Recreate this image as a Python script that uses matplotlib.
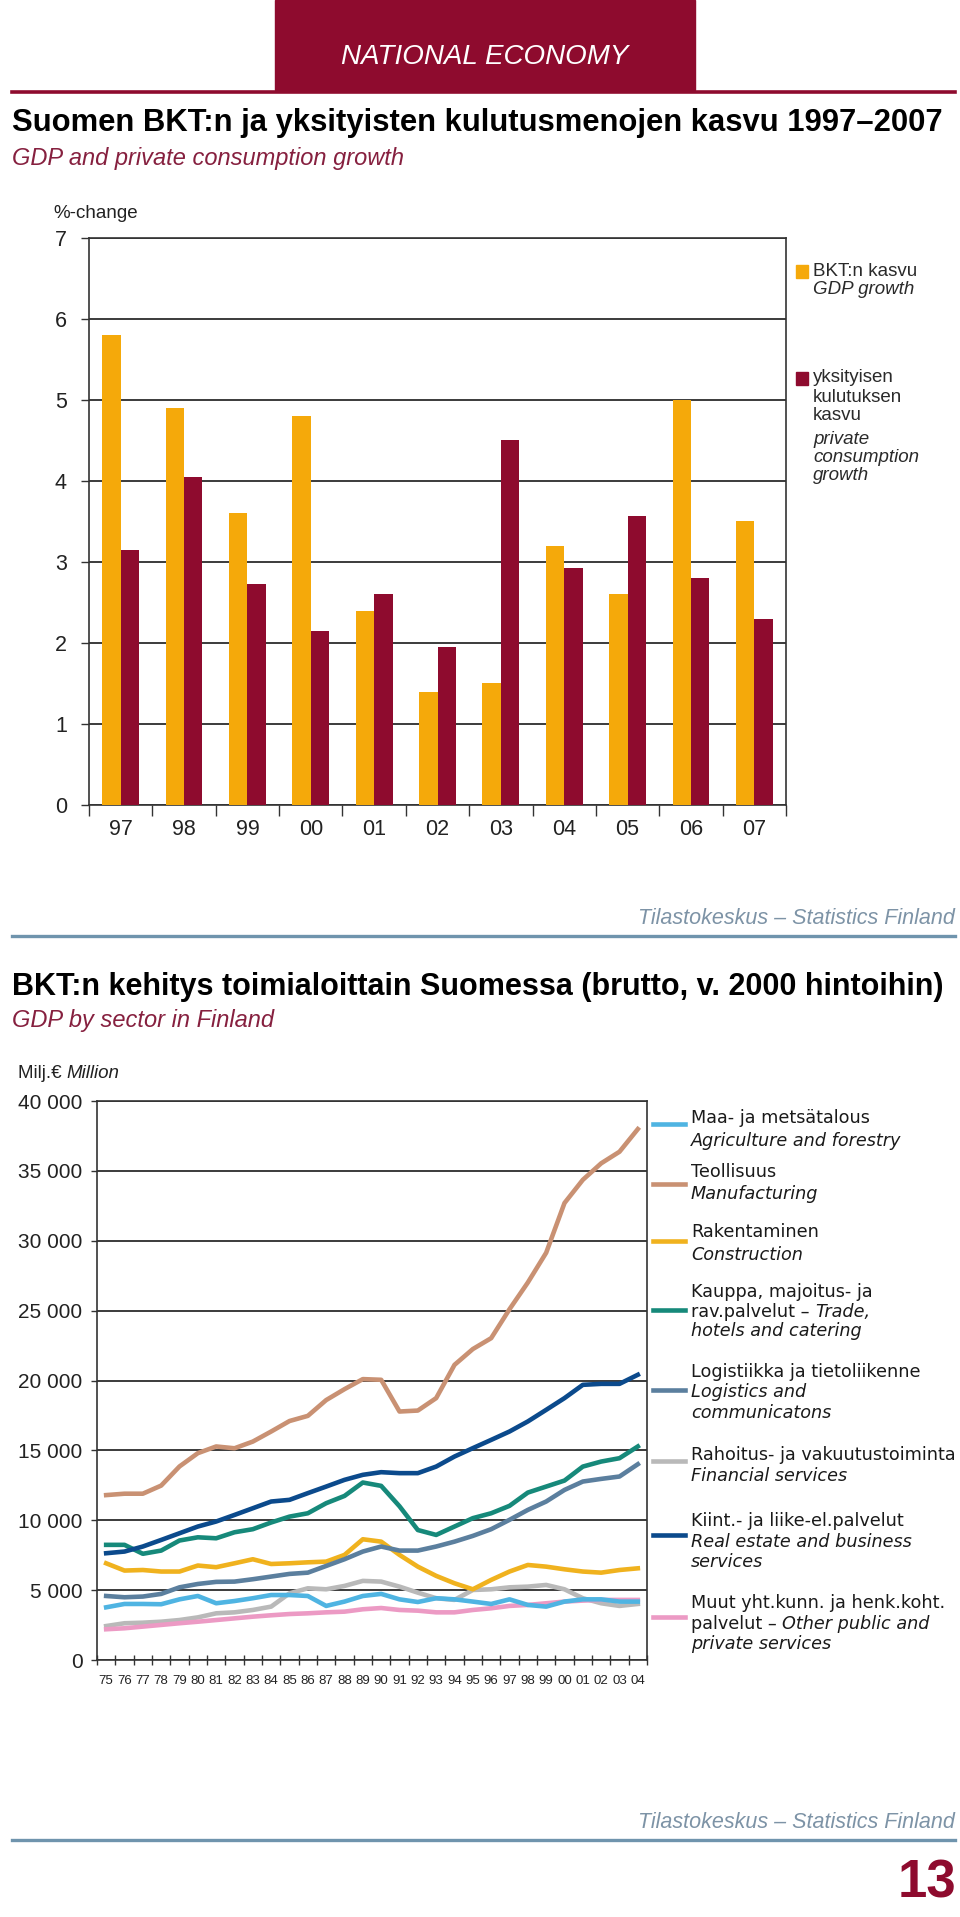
import matplotlib
matplotlib.use("Agg")
import matplotlib.pyplot as plt
from matplotlib.patches import Rectangle
from matplotlib.lines import Line2D
import numpy as np

# --- bar chart data: GDP and private consumption growth, %-change ---
bar_years = ["97", "98", "99", "00", "01", "02", "03", "04", "05", "06", "07"]
gdp_growth = [5.8, 4.9, 3.6, 4.8, 2.4, 1.4, 1.5, 3.2, 2.6, 5.0, 3.5]
consumption_growth = [3.15, 4.05, 2.73, 2.15, 2.6, 1.95, 4.5, 2.93, 3.57, 2.8, 2.3]

# --- line chart data: GDP by sector, million euro (2000 prices) ---
sector_years = ["75", "76", "77", "78", "79", "80", "81", "82", "83", "84",
                "85", "86", "87", "88", "89", "90", "91", "92", "93", "94",
                "95", "96", "97", "98", "99", "00", "01", "02", "03", "04"]
agriculture = [3770, 4010, 4010, 3990, 4340, 4580, 4060, 4220, 4420, 4650,
               4650, 4580, 3870, 4180, 4580, 4730, 4340, 4150, 4420, 4340,
               4180, 4010, 4340, 3940, 3820, 4180, 4340, 4340, 4180, 4180]
manufacturing = [11800, 11900, 11900, 12480, 13850, 14800, 15280, 15150, 15630, 16350,
                 17100, 17470, 18600, 19380, 20100, 20050, 17780, 17850, 18740, 21120,
                 22250, 23030, 25100, 27010, 29140, 32700, 34360, 35540, 36370, 37990]
construction = [6920, 6400, 6440, 6330, 6330, 6760, 6640, 6920, 7210, 6870,
                6920, 6990, 7040, 7520, 8640, 8470, 7520, 6680, 6020, 5490,
                5060, 5730, 6330, 6800, 6680, 6490, 6330, 6250, 6440, 6560]
trade = [8240, 8240, 7600, 7830, 8550, 8780, 8710, 9140, 9360, 9840,
         10260, 10500, 11220, 11740, 12700, 12460, 11000, 9300, 8950, 9550,
         10150, 10500, 11030, 11980, 12410, 12840, 13840, 14200, 14440, 15280]
logistics = [4580, 4490, 4540, 4730, 5200, 5440, 5590, 5610, 5780, 5970,
             6160, 6250, 6730, 7210, 7760, 8120, 7830, 7830, 8120, 8470,
             8880, 9360, 10030, 10740, 11340, 12170, 12770, 12960, 13130, 14010]
financial = [2430, 2630, 2670, 2740, 2860, 3050, 3340, 3410, 3580, 3820,
             4770, 5130, 5060, 5300, 5660, 5610, 5250, 4820, 4420, 4300,
             5010, 5060, 5200, 5250, 5370, 5060, 4420, 4060, 3870, 4010]
real_estate = [7640, 7760, 8120, 8590, 9070, 9550, 9910, 10380, 10860, 11340,
               11460, 11940, 12410, 12890, 13250, 13440, 13370, 13370, 13840, 14560,
               15160, 15750, 16350, 17070, 17900, 18740, 19690, 19760, 19760, 20410]
other_services = [2200, 2270, 2390, 2510, 2630, 2740, 2860, 2980, 3100, 3200,
                  3290, 3340, 3410, 3460, 3630, 3720, 3580, 3530, 3410, 3410,
                  3580, 3700, 3870, 3940, 4060, 4180, 4250, 4300, 4300, 4300]

RED = "#8e0b2e"
GOLD = "#f5a90a"
MAROON_TXT = "#86203f"
SOURCE_TXT = "#7d93a6"
SOURCE_LINE = "#6f94ad"

W, H = 960, 1917
plt.rcParams['font.family'] = ['Liberation Sans', 'DejaVu Sans']


def fx(x):
    return x / W


def fy(y):
    return 1 - y / H


fig = plt.figure(figsize=(W / 100, H / 100), dpi=100)


def text_runs(ax, x, y, runs, **kw):
    # one line of text made of regular / italic pieces, placed end to end
    prev = None
    for txt, st in runs:
        if prev is None:
            prev = fig.text(x, y, txt, style=st, ha="left", va="center", **kw)
        else:
            prev = ax.annotate(txt, xy=(1, 0.5), xycoords=prev, style=st,
                               ha="left", va="center", annotation_clip=False, **kw)
    return prev


# header band
fig.patches.append(Rectangle((fx(275), fy(90)), fx(695) - fx(275), fy(0) - fy(90),
                             transform=fig.transFigure, color=RED, zorder=0))
fig.add_artist(Line2D([fx(12), fx(955)], [fy(92), fy(92)], color=RED, lw=2.6))
fig.text(fx(485), fy(57), "NATIONAL ECONOMY", color="white", style="italic",
         fontsize=20, ha="center", va="center")

# ---------------- chart 1 ----------------
fig.text(fx(12), fy(123), "Suomen BKT:n ja yksityisten kulutusmenojen kasvu 1997–2007",
         fontsize=22.3, weight="bold", ha="left", va="center")
fig.text(fx(12), fy(158), "GDP and private consumption growth", fontsize=17,
         style="italic", color=MAROON_TXT, ha="left", va="center")
fig.text(fx(53), fy(214), "%-change", fontsize=13.5, ha="left", va="center", color="#222222")

ax1 = fig.add_axes([fx(89), fy(805), fx(786) - fx(89), fy(238) - fy(805)])
x = np.arange(len(bar_years))
bw = 0.29
ax1.bar(x - bw / 2, gdp_growth, bw, color=GOLD, zorder=3)
ax1.bar(x + bw / 2, consumption_growth, bw, color=RED, zorder=3)
ax1.set_xlim(-0.5, len(bar_years) - 0.5)
ax1.set_ylim(0, 7)
ax1.set_yticks(range(0, 8))
ax1.yaxis.grid(True, color="#1a1a1a", lw=1.2, zorder=1)
ax1.set_xticks(np.arange(-0.5, len(bar_years), 1.0))
ax1.set_xticklabels([])
ax1.set_xticks(x, minor=True)
ax1.set_xticklabels(bar_years, minor=True)
ax1.tick_params(axis="x", which="major", length=8, width=1, color="#333333")
ax1.tick_params(axis="x", which="minor", length=0, pad=10, labelsize=15.5,
                labelcolor="#222222")
ax1.tick_params(axis="y", length=6, width=1, pad=10, labelsize=15.5,
                labelcolor="#222222", color="#333333")
for s in ax1.spines.values():
    s.set_color("#333333")
    s.set_linewidth(1.2)

# legend of chart 1
fig.patches.append(Rectangle((fx(796), fy(278)), fx(12), 13 / H,
                             transform=fig.transFigure, color=GOLD))
fig.patches.append(Rectangle((fx(796), fy(385)), fx(12), 13 / H,
                             transform=fig.transFigure, color=RED))
leg1 = [("BKT:n kasvu", 271, "normal"), ("GDP growth", 290, "italic"),
        ("yksityisen", 378, "normal"), ("kulutuksen", 397, "normal"),
        ("kasvu", 416, "normal"), ("private", 439, "italic"),
        ("consumption", 458, "italic"), ("growth", 476, "italic")]
for txt, yy, st in leg1:
    fig.text(fx(813), fy(yy), txt, fontsize=13.5, style=st, color="#2a2a2a",
             ha="left", va="center")

fig.text(fx(955), fy(919), "Tilastokeskus – Statistics Finland", fontsize=15.5,
         style="italic", color=SOURCE_TXT, ha="right", va="center")
fig.add_artist(Line2D([fx(12), fx(955)], [fy(936), fy(936)], color=SOURCE_LINE, lw=2.4))

# ---------------- chart 2 ----------------
fig.text(fx(12), fy(987), "BKT:n kehitys toimialoittain Suomessa (brutto, v. 2000 hintoihin)",
         fontsize=22, weight="bold", ha="left", va="center")
fig.text(fx(12), fy(1020), "GDP by sector in Finland", fontsize=17,
         style="italic", color=MAROON_TXT, ha="left", va="center")

ax2 = fig.add_axes([fx(97), fy(1660), fx(647) - fx(97), fy(1101) - fy(1660)])
text_runs(ax2, fx(18), fy(1074), [("Milj.€ ", "normal"), ("Million", "italic")],
          fontsize=13.5, color="#222222")

xs = np.arange(len(sector_years))
series = [
    (agriculture, "#4fb4e2"),
    (manufacturing, "#c99173"),
    (construction, "#f0b21e"),
    (trade, "#16897a"),
    (logistics, "#5b7f9e"),
    (financial, "#b9b9b9"),
    (real_estate, "#0b4a8c"),
    (other_services, "#ec9ac4"),
]
# draw in an order so the darker lines sit on top as in the print
for idx in [5, 7, 0, 2, 4, 3, 6, 1]:
    vals, col = series[idx]
    ax2.plot(xs, vals, color=col, lw=3.3, solid_joinstyle="round", zorder=3)
ax2.set_xlim(-0.5, len(sector_years) - 0.5)
ax2.set_ylim(0, 40000)
yt = np.arange(0, 40001, 5000)
ax2.set_yticks(yt)
ax2.set_yticklabels(["0" if v == 0 else f"{v // 1000} 000" for v in yt])
ax2.yaxis.grid(True, color="#1a1a1a", lw=1.2, zorder=1)
ax2.set_xticks(np.arange(-0.5, len(sector_years), 1.0))
ax2.set_xticklabels([])
ax2.set_xticks(xs, minor=True)
ax2.set_xticklabels(sector_years, minor=True)
ax2.tick_params(axis="x", which="major", direction="inout", length=7, width=1,
                color="#333333")
ax2.tick_params(axis="x", which="minor", length=0, pad=11, labelsize=9.5,
                labelcolor="#222222")
ax2.tick_params(axis="y", length=4, width=1, pad=6.5, labelsize=15,
                labelcolor="#222222", color="#333333")
for s in ax2.spines.values():
    s.set_color("#333333")
    s.set_linewidth(1.2)

# legend of chart 2: sample line y, y of each text line, runs per line
leg2 = [
    (1124, [1118, 1141], [[("Maa- ja metsätalous", "normal")],
                          [("Agriculture and forestry", "italic")]]),
    (1184, [1172, 1194], [[("Teollisuus", "normal")], [("Manufacturing", "italic")]]),
    (1241, [1232, 1255], [[("Rakentaminen", "normal")], [("Construction", "italic")]]),
    (1310, [1292, 1312, 1331], [[("Kauppa, majoitus- ja", "normal")],
                                [("rav.palvelut – ", "normal"), ("Trade,", "italic")],
                                [("hotels and catering", "italic")]]),
    (1390, [1372, 1392, 1413], [[("Logistiikka ja tietoliikenne", "normal")],
                                [("Logistics and", "italic")],
                                [("communicatons", "italic")]]),
    (1461, [1455, 1476], [[("Rahoitus- ja vakuutustoiminta", "normal")],
                          [("Financial services", "italic")]]),
    (1535, [1521, 1542, 1562], [[("Kiint.- ja liike-el.palvelut", "normal")],
                                [("Real estate and business", "italic")],
                                [("services", "italic")]]),
    (1617, [1603, 1624, 1644], [[("Muut yht.kunn. ja henk.koht.", "normal")],
                                [("palvelut – ", "normal"), ("Other public and", "italic")],
                                [("private services", "italic")]]),
]
for (vals, col), (ly, tys, lines) in zip(series, leg2):
    fig.add_artist(Line2D([fx(653), fx(685)], [fy(ly), fy(ly)], color=col, lw=3.3))
    for ty, runs in zip(tys, lines):
        text_runs(ax2, fx(691), fy(ty), runs, fontsize=12.7,
                  family=["DejaVu Sans"], color="#1a1a1a")

fig.text(fx(955), fy(1822), "Tilastokeskus – Statistics Finland", fontsize=15.5,
         style="italic", color=SOURCE_TXT, ha="right", va="center")
fig.add_artist(Line2D([fx(12), fx(955)], [fy(1840), fy(1840)], color=SOURCE_LINE, lw=2.4))
fig.text(fx(956), fy(1883), "13", fontsize=38, weight="bold", color=RED,
         ha="right", va="center")

fig.savefig("out.png", dpi=100)
